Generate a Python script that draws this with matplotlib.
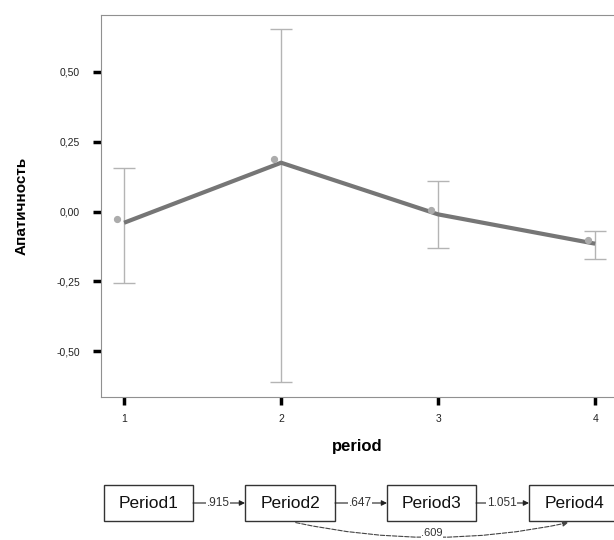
import matplotlib
matplotlib.use('Agg')
import matplotlib.pyplot as plt
from matplotlib.patches import Rectangle, FancyArrowPatch

plt.rcParams['font.family'] = ['Liberation Sans', 'DejaVu Sans']

# chart data
periods = [1, 2, 3, 4]
line_vals = [-0.04, 0.175, -0.01, -0.115]
dot_vals = [-0.025, 0.19, 0.005, -0.10]
err_hi = [0.157, 0.654, 0.111, -0.068]
err_lo = [-0.254, -0.611, -0.132, -0.171]
ytick_vals = [-0.50, -0.25, 0.00, 0.25, 0.50]
ytick_labels = ['-0,50', '-0,25', '0,00', '0,25', '0,50']

# path diagram data
box_names = ['Period1', 'Period2', 'Period3', 'Period4']
path_coefs = ['.915', '.647', '1.051']
skip_coef = '.609'

W, H = 614, 540
fig = plt.figure(figsize=(W / 100, H / 100), dpi=100)

ax = fig.add_axes([101 / W, (H - 397) / H, 1 - 101 / W, (397 - 15) / H])
ax.set_xlim(0.853, 4.12)
ax.set_ylim(-0.664, 0.704)

mid = [(h + l) / 2 for h, l in zip(err_hi, err_lo)]
half = [(h - l) / 2 for h, l in zip(err_hi, err_lo)]
ax.errorbar(periods, mid, yerr=half, fmt='none', ecolor='#b4b4b4',
            elinewidth=1.0, capsize=8, capthick=1.0, zorder=2)
ax.plot(periods, line_vals, color='#767676', lw=3, solid_capstyle='butt', zorder=3)
ax.plot([p - 0.045 for p in periods], dot_vals, 'o', color='#acacac',
        ms=4.2, mec='#acacac', zorder=4)

for side in ['left', 'bottom', 'top']:
    ax.spines[side].set_color('#909090')
ax.spines['right'].set_visible(False)
ax.set_yticks(ytick_vals)
ax.set_yticklabels(ytick_labels)
ax.set_xticks(periods)
ax.tick_params(axis='both', direction='out', length=6, width=2.5, color='black',
               labelsize=7.5, labelcolor='#222222')
ax.tick_params(axis='y', pad=9)
ax.tick_params(axis='x', pad=6)
ax.set_ylabel('Апатичность', fontsize=11, fontweight='bold', labelpad=20)
ax.set_xlabel('period', fontsize=12, fontweight='bold', labelpad=11)

# path diagram below the chart, in pixel coordinates
dg = fig.add_axes([0, 0, 1, 1], zorder=-1)
dg.set_xlim(0, W)
dg.set_ylim(H, 0)
dg.axis('off')

box_x = [104, 245, 387, 529]
box_w = [89, 90, 89, 92]
box_top, box_bot = 485, 521
for name, x0, w in zip(box_names, box_x, box_w):
    dg.add_patch(Rectangle((x0, box_top), w, box_bot - box_top, fill=False,
                           ec='#333333', lw=1.0))
    dg.text(x0 + w / 2, (box_top + box_bot) / 2 + 1, name, fontsize=12.5,
            ha='center', va='center', color='#111111')

ymid = (box_top + box_bot) / 2
for i, coef in enumerate(path_coefs):
    xa = box_x[i] + box_w[i]
    xb = box_x[i + 1]
    dg.annotate('', xy=(xb, ymid), xytext=(xa, ymid),
                arrowprops=dict(arrowstyle='-|>', color='#222222', lw=0.8,
                                mutation_scale=8, shrinkA=0, shrinkB=0))
    dg.text((xa + xb) / 2 - 1, ymid, coef, fontsize=8.5, ha='center', va='center',
            color='#333333', bbox=dict(fc='white', ec='none', pad=0.6))

arc = FancyArrowPatch((293, box_bot + 1), (571, box_bot + 1),
                      connectionstyle='arc3,rad=0.11', arrowstyle='-|>',
                      mutation_scale=8, color='#444444', lw=0.8, ls=(0, (4, 1.5)))
dg.add_patch(arc)
dg.text(432, 533, skip_coef, fontsize=8, ha='center', va='center',
        color='#333333', bbox=dict(fc='white', ec='none', pad=0.4))

fig.savefig('out.png', dpi=100)
